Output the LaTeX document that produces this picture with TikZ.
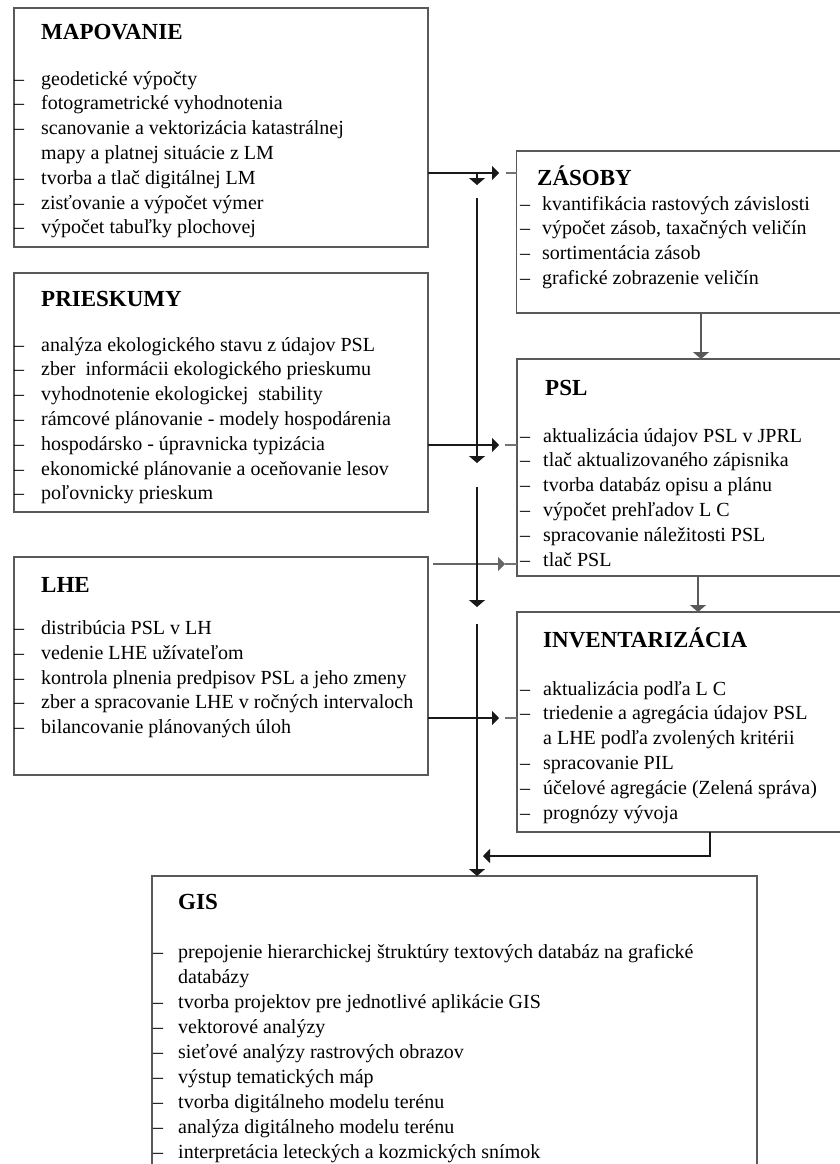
\documentclass[tikz,border=0pt]{standalone}
\usepackage{fontspec}
\setmainfont{Liberation Serif}
\usetikzlibrary{arrows.meta}
\tikzset{
  box/.style={draw=black!65, line width=1.3pt, inner sep=0pt, outer sep=0pt, anchor=north west},
  ttl/.style={inner sep=0pt, anchor=base west, font=\fontsize{23}{27}\selectfont\bfseries},
  itm/.style={inner sep=0pt, anchor=base west, font=\fontsize{20}{24.8}\selectfont},
  conn/.style={draw=black!90, line width=1.1pt},
  hcon/.style={conn, -{Triangle[length=7pt,width=14pt]}},
  vcon/.style={conn, -{Triangle[length=7pt,width=16pt]}},
  stub/.style={draw=black!55, line width=1.1pt},
}
\newcommand\blist[6]{%
  \foreach \d/\t [count=\i] in {#6}{%
    \node[itm] (#1\i) at (#2,{#4+(\i-1)*#5}) {\ifnum\d=1 \makebox[#3pt][l]{–}\else\hspace*{#3pt}\fi\t};
  }}
\begin{document}
\begin{tikzpicture}[x=1pt,y=-1pt]
\useasboundingbox (0,0) rectangle (840,1164);
% boxes
\node[box, minimum width=414pt, minimum height=239pt] (map) at (14,8) {};
\node[box, minimum width=326pt, minimum height=162pt] (zas) at (516.5,151) {};
\node[box, minimum width=414pt, minimum height=239pt] (pri) at (14,273) {};
\node[box, minimum width=326pt, minimum height=217pt] (psl) at (517,359) {};
\node[box, minimum width=414pt, minimum height=218pt] (lhe) at (14,557) {};
\node[box, minimum width=326pt, minimum height=220pt] (inv) at (517,612) {};
\node[box, minimum width=605pt, minimum height=300pt] (gis) at (152,876) {};
% titles
\node[ttl] (mapH) at (41,40) {MAPOVANIE};
\node[ttl] (zasH) at (537,185) {ZÁSOBY};
\node[ttl] (priH) at (41,306) {PRIESKUMY};
\node[ttl] (pslH) at (545,395) {PSL};
\node[ttl] (lheH) at (41,592) {LHE};
\node[ttl] (invH) at (543,647) {INVENTARIZÁCIA};
\node[ttl] (gisH) at (178,909) {GIS};
% item lists
\blist{mapI}{14}{27}{85}{24.8}{1/geodetické výpočty,
  1/fotogrametrické vyhodnotenia,
  1/scanovanie a vektorizácia katastrálnej,
  0/mapy a platnej situácie z LM,
  1/tvorba a tlač digitálnej LM,
  1/zisťovanie a výpočet výmer,
  1/výpočet tabuľky plochovej}
\blist{zasI}{520}{22}{210}{24.8}{1/kvantifikácia rastových závislosti,
  1/{výpočet zásob, taxačných veličín},
  1/sortimentácia zásob,
  1/grafické zobrazenie veličín}
\blist{priI}{14}{27}{351}{24.8}{1/analýza ekologického stavu z údajov PSL,
  1/zber\ \ informácii ekologického prieskumu,
  1/vyhodnotenie ekologickej\ \ stability,
  1/rámcové plánovanie - modely hospodárenia,
  1/hospodársko - úpravnicka typizácia,
  1/ekonomické plánovanie a oceňovanie lesov,
  1/poľovnicky prieskum}
\blist{pslI}{520}{23}{442}{24.8}{1/aktualizácia údajov PSL v JPRL,
  1/tlač aktualizovaného zápisnika,
  1/tvorba databáz opisu a plánu,
  1/výpočet prehľadov L C,
  1/spracovanie náležitosti PSL,
  1/tlač PSL}
\blist{lheI}{14}{27}{634.5}{24.8}{1/distribúcia PSL v LH,
  1/vedenie LHE užívateľom,
  1/kontrola plnenia predpisov PSL a jeho zmeny,
  1/zber a spracovanie LHE v ročných intervaloch,
  1/bilancovanie plánovaných úloh}
\blist{invI}{520}{23}{695}{24.8}{1/aktualizácia podľa L C,
  1/triedenie a agregácia údajov PSL,
  0/a LHE podľa zvolených kritérii,
  1/spracovanie PIL,
  1/účelové agregácie (Zelená správa),
  1/prognózy vývoja}
\blist{gisI}{153}{25}{958}{25}{1/prepojenie hierarchickej štruktúry textových databáz na grafické,
  0/databázy,
  1/tvorba projektov pre jednotlivé aplikácie GIS,
  1/vektorové analýzy,
  1/sieťové analýzy rastrových obrazov,
  1/výstup tematických máp,
  1/tvorba digitálneho modelu terénu,
  1/analýza digitálneho modelu terénu,
  1/interpretácia leteckých a kozmických snímok}
% connectors: boxes on the left to boxes on the right
\coordinate (aZ) at (499,173);
\coordinate (sZ) at (506,173);
\draw[hcon] (map.east |- aZ) -- (aZ);
\draw[stub] (sZ) -- (zas.west |- sZ);
\coordinate (aP) at (499,445);
\coordinate (sP) at (505,445);
\draw[hcon] (pri.east |- aP) -- (aP);
\draw[stub] (sP) -- (psl.west |- sP);
\coordinate (lP) at (433,564);
\coordinate (aL) at (505,564);
\draw[hcon, draw=black!60] (lP) -- (aL);
\draw[stub] (aL) -- (psl.west |- aL);
\coordinate (aI) at (499,718);
\coordinate (sI) at (505,718);
\draw[hcon] (lhe.east |- aI) -- (aI);
\draw[stub] (sI) -- (inv.west |- sI);
% trunk going down to GIS
\coordinate (t1) at (477,173);
\coordinate (t1e) at (477,185);
\draw[vcon] (t1) -- (t1e);
\coordinate (t2) at (477,198);
\coordinate (t2e) at (477,463);
\draw[vcon] (t2) -- (t2e);
\coordinate (t3) at (477,487);
\coordinate (t3e) at (477,607);
\draw[vcon] (t3) -- (t3e);
\coordinate (t4) at (477,624);
\draw[vcon] (t4) -- (gis.north -| t4);
% right column
\coordinate (zx) at (701,0);
\draw[vcon, draw=black!65] (zas.south -| zx) -- (psl.north -| zx);
\coordinate (px) at (698,0);
\draw[vcon, draw=black!65] (psl.south -| px) -- (inv.north -| px);
\coordinate (ix) at (710,856);
\coordinate (aT) at (483,856);
\draw[hcon] (inv.south -| ix) |- (aT);
\end{tikzpicture}
\end{document}
